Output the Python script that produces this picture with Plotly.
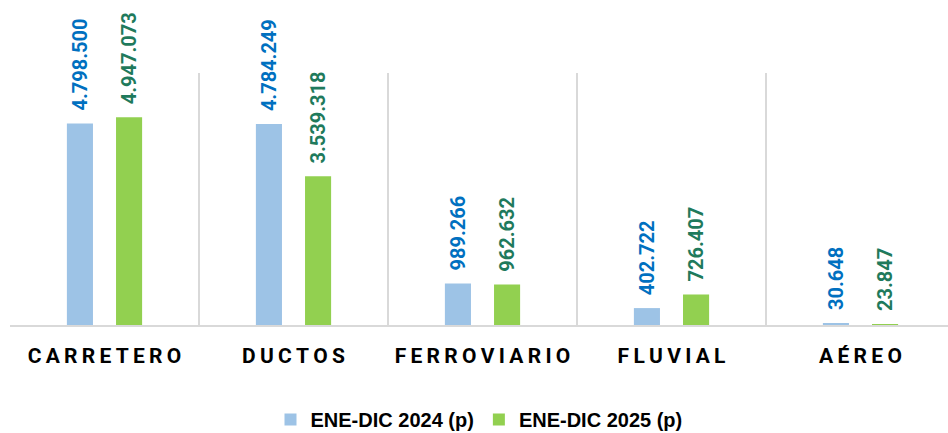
import plotly.graph_objects as go

categories = ["CARRETERO", "DUCTOS", "FERROVIARIO", "FLUVIAL", "AÉREO"]
tick_labels = ["\u2009".join(c) for c in categories]
values_2024 = [4798500, 4784249, 989266, 402722, 30648]
values_2025 = [4947073, 3539318, 962632, 726407, 23847]
series_names = ["ENE-DIC 2024 (p)", "ENE-DIC 2025 (p)"]

label_font = "Roboto, Liberation Sans, Arial, sans-serif"
pad = "\u00a0\u00a0"

fig = go.Figure()
fig.add_trace(go.Bar(
    x=categories, y=values_2024, name=series_names[0],
    marker=dict(color="#9dc3e6", line=dict(width=0)),
    width=0.138, offset=-0.199,
    texttemplate=pad + "%{y:,}", textposition="outside", textangle=-90,
    textfont=dict(family=label_font, size=20, color="#0070c0", weight="bold"),
    cliponaxis=False, constraintext="none",
))
fig.add_trace(go.Bar(
    x=categories, y=values_2025, name=series_names[1],
    marker=dict(color="#92d050", line=dict(width=0)),
    width=0.138, offset=0.061,
    texttemplate=pad + "%{y:,}", textposition="outside", textangle=-90,
    textfont=dict(family=label_font, size=20, color="#1f7a5c", weight="bold"),
    cliponaxis=False, constraintext="none",
))

fig.update_layout(
    width=948, height=433,
    margin=dict(l=10, r=0, t=73, b=108, autoexpand=False),
    paper_bgcolor="white", plot_bgcolor="white",
    separators=",.",
    barmode="group",
    showlegend=True,
    legend=dict(orientation="h", x=0.5, xanchor="center", y=-0.375, yanchor="middle",
                font=dict(family="Liberation Sans, Arial, sans-serif", size=20, color="black", weight="bold"),
                itemwidth=30, tracegroupgap=0),
    xaxis=dict(
        range=[-0.5, 4.463],
        tickmode="array", tickvals=categories, ticktext=tick_labels,
        tickson="boundaries", showgrid=True, gridcolor="#d9d9d9", gridwidth=2,
        showline=True, linecolor="#d9d9d9", linewidth=2,
        ticks="", ticklabelstandoff=11, tickangle=0, automargin=False,
        tickfont=dict(family="Roboto, Liberation Sans, Arial, sans-serif", size=21, color="black", weight="bold"),
    ),
    yaxis=dict(range=[0, 6000000], visible=False, showgrid=False, zeroline=False),
)

fig.write_html("out.html")
